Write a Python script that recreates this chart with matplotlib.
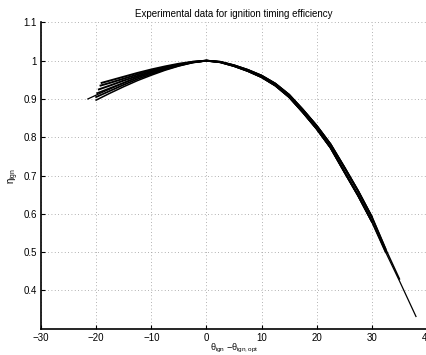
import matplotlib
matplotlib.use("Agg")
import matplotlib.pyplot as plt

plt.rcParams['font.family'] = ['Liberation Sans', 'DejaVu Sans']
plt.rcParams['mathtext.fontset'] = 'custom'
plt.rcParams['mathtext.rm'] = 'Liberation Sans'
plt.rcParams['mathtext.it'] = 'Liberation Sans'

# Left branches (advance side), one per experiment
left_x = [
    [-21.5, -20, -17.5, -15, -12.5, -10, -7.5, -5, -2.5, 0],
    [-20, -17.5, -15, -12.5, -10, -7.5, -5, -2.5, 0],
    [-20, -17.5, -15, -12.5, -10, -7.5, -5, -2.5, 0],
    [-19.8, -17.5, -15, -12.5, -10, -7.5, -5, -2.5, 0],
    [-19.5, -17.5, -15, -12.5, -10, -7.5, -5, -2.5, 0],
    [-19.2, -17.5, -15, -12.5, -10, -7.5, -5, -2.5, 0],
    [-19.0, -17.5, -15, -12.5, -10, -7.5, -5, -2.5, 0],
]
left_eta = [
    [0.900, 0.910, 0.926, 0.942, 0.957, 0.969, 0.980, 0.989, 0.996, 1.0],
    [0.897, 0.915, 0.932, 0.948, 0.962, 0.975, 0.986, 0.995, 1.0],
    [0.905, 0.921, 0.937, 0.952, 0.965, 0.977, 0.987, 0.995, 1.0],
    [0.915, 0.928, 0.942, 0.956, 0.968, 0.979, 0.988, 0.996, 1.0],
    [0.925, 0.935, 0.948, 0.960, 0.971, 0.981, 0.989, 0.996, 1.0],
    [0.935, 0.942, 0.953, 0.964, 0.974, 0.983, 0.990, 0.997, 1.0],
    [0.942, 0.948, 0.958, 0.968, 0.977, 0.985, 0.992, 0.997, 1.0],
]
# Right branches (retard side)
right_x = [0, 2.5, 5, 7.5, 10, 12.5, 15, 17.5, 20, 22.5, 25, 27.5, 30, 32.5, 35, 38]
right_eta_a = [1.000, 0.996, 0.986, 0.973, 0.957, 0.935, 0.905, 0.865, 0.822,
               0.773, 0.710, 0.648, 0.580, 0.500, 0.425, 0.332]
right_eta_b = [1.000, 0.997, 0.988, 0.976, 0.961, 0.940, 0.911, 0.872, 0.830,
               0.782, 0.722, 0.660, 0.592, 0.508, 0.430, 0.335]
right_eta = [right_eta_a, right_eta_b, right_eta_a, right_eta_b,
             right_eta_a, right_eta_b, right_eta_a]
# Last retard angle measured for each experiment
right_end = [38, 35, 32.5, 32.5, 30, 30, 30]
line_w = [0.9, 1.1, 1.3, 1.3, 1.4, 1.4, 1.4]

xticks = [-30, -20, -10, 0, 10, 20, 30, 40]
xticklabels = ['\u221230', '\u221220', '\u221210', '0', '10', '20', '30', '40']
yticks = [0.4, 0.5, 0.6, 0.7, 0.8, 0.9, 1.0, 1.1]
yticklabels = ['0.4', '0.5', '0.6', '0.7', '0.8', '0.9', '1', '1.1']

fig = plt.figure(figsize=(4.27, 3.55), dpi=100)
ax = fig.add_axes([0.096, 0.074, 0.904, 0.863])

for lx, ly, reta, end, lw in zip(left_x, left_eta, right_eta, right_end, line_w):
    rx = [x for x in right_x if 0 < x <= end]
    ry = [y for x, y in zip(right_x, reta) if 0 < x <= end]
    ax.plot(lx + rx, ly + ry, color='black', lw=lw, solid_joinstyle='round')

ax.set_xlim(-30, 40)
ax.set_ylim(0.3, 1.1)
ax.set_xticks(xticks)
ax.set_xticklabels(xticklabels)
ax.set_yticks(yticks)
ax.set_yticklabels(yticklabels)
ax.tick_params(direction='in', length=3, width=0.8, labelsize=7, pad=3,
               top=False, right=False)
ax.grid(True, linestyle=(0, (1, 3)), color='#999999', lw=0.6)
for s in ['top', 'right']:
    ax.spines[s].set_visible(False)
for s in ['left', 'bottom']:
    ax.spines[s].set_linewidth(1.2)

ax.set_title('Experimental data for ignition timing efficiency', fontsize=7, pad=4)
ax.set_xlabel(r'$\theta_{ign}$ $-\theta_{ign,opt}$', fontsize=6.5)
ax.xaxis.set_label_coords(0.5, -0.043)
ax.set_ylabel(r'$\eta_{ign}$', fontsize=7, labelpad=2)

fig.savefig('out.png', dpi=100)
